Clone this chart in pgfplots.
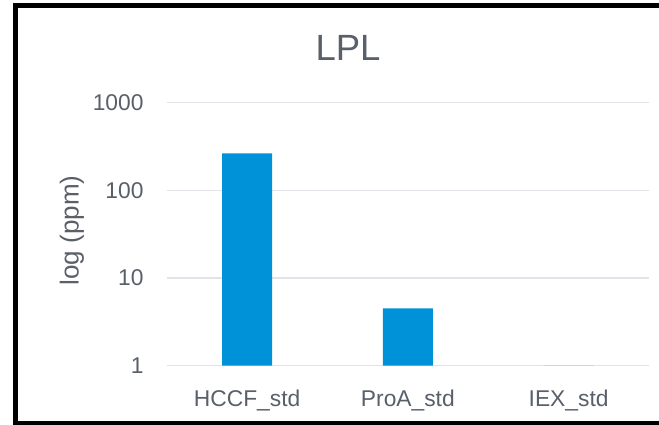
\documentclass[border=0pt]{standalone}
\usepackage{pgfplots}
\pgfplotsset{compat=1.18}
\usepackage{fontspec}
\setmainfont{Liberation Sans}

\definecolor{barblue}{RGB}{0,146,216}
\definecolor{txtgray}{RGB}{89,96,106}
\definecolor{gridgray}{RGB}{226,227,233}

\begin{document}
\begin{tikzpicture}[x=1pt,y=1pt]
\useasboundingbox (0,0) rectangle (659,425);
\clip (0,0) rectangle (659,425);
\fill[white] (0,0) rectangle (659,425);
\draw[black, line width=5pt] (15.8,1.5) rectangle (700,419);

\node[txtgray, font=\fontsize{36.5}{42}\selectfont, anchor=base] at (348,364.3) {LPL};
\node[txtgray, font=\fontsize{26}{30}\selectfont, rotate=90, anchor=center] at (72,194.5) {log (ppm)};

\begin{axis}[
at={(166.7pt,59.3pt)},
anchor=south west,
scale only axis,
width=482.3pt,
height=263pt,
ymode=log,
ymin=1, ymax=1000,
ytick={1,10,100,1000},
yticklabels={1,10,100,1000},
xmin=-0.5, xmax=2.5,
xtick={0,1,2},
xticklabels={HCCF\_std, ProA\_std, IEX\_std},
enlargelimits=false,
ybar,
bar width=50pt,
axis line style={draw=none},
tick style={draw=none},
ymajorgrids,
major grid style={gridgray, line width=1.6pt},
yticklabel style={anchor=east, inner sep=0pt, xshift=-23pt, txtgray, font=\fontsize{22.8}{26}\selectfont},
xticklabel style={anchor=north, inner sep=0pt, yshift=-19.5pt, txtgray, font=\fontsize{22.8}{26}\selectfont},
]
\addplot[fill=barblue, draw=none] coordinates {
	(0,265)
	(1,4.5)
	(2,1)
};
\end{axis}
\end{tikzpicture}
\end{document}
